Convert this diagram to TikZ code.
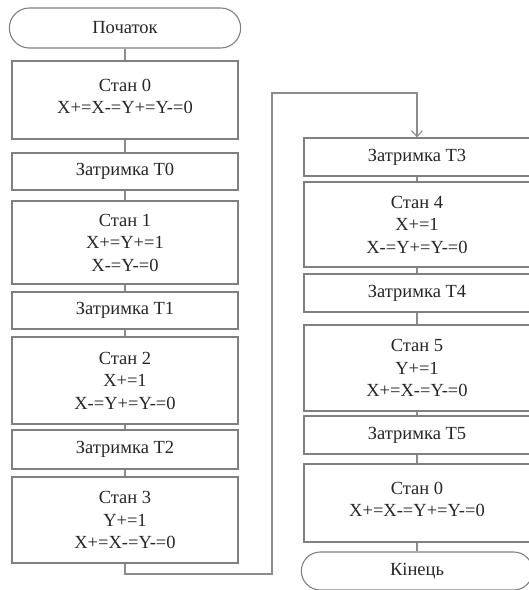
\documentclass[tikz,border=0pt]{standalone}
\usepackage{fontspec}
\setmainfont{Liberation Serif}
\usetikzlibrary{arrows.meta, positioning, shapes.misc}

\begin{document}
\begin{tikzpicture}[x=1pt, y=1pt, >={Straight Barb[length=6pt, width=11pt]},
    every node/.style={font=\fontsize{18.5}{22.5}\selectfont, text=black!85},
    block/.style={draw=black!50, line width=1.1pt, minimum width=226pt, align=center, inner sep=2pt},
    term/.style={draw=black!50, line width=1.1pt, rounded rectangle, minimum width=238pt, minimum height=40pt},
    link/.style={draw=black!45, line width=1.1pt}]
    \useasboundingbox (0,0) rectangle (529,590);
    % Left column
    \node[term] (start) at (125,562) {Початок};
    \node[block, minimum height=78pt, text depth=7pt] (stan0) at (125,490) {Стан 0\\X+=X-=Y+=Y-=0};
    \node[block, minimum height=37pt] (zatr0) at (125,418.5) {Затримка T0};
    \node[block, minimum height=83pt] (stan1) at (125,347.5) {Стан 1\\X+=Y+=1\\X-=Y-=0};
    \node[block, minimum height=37pt] (zatr1) at (125,279.5) {Затримка T1};
    \node[block, minimum height=87pt] (stan2) at (125,209.5) {Стан 2\\X+=1\\X-=Y+=Y-=0};
    \node[block, minimum height=39pt] (zatr2) at (125,140.5) {Затримка T2};
    \node[block, minimum height=86pt] (stan3) at (125,70) {Стан 3\\Y+=1\\X+=X-=Y-=0};
    % Right column
    \node[block, minimum height=38pt] (zatr3) at (417,433) {Затримка T3};
    \node[block, minimum height=85pt] (stan4) at (417,365.5) {Стан 4\\X+=1\\X-=Y+=Y-=0};
    \node[block, minimum height=38pt] (zatr4) at (417,297) {Затримка T4};
    \node[block, minimum height=86pt] (stan5) at (417,222) {Стан 5\\Y+=1\\X+=X-=Y-=0};
    \node[block, minimum height=38pt] (zatr5) at (417,155) {Затримка T5};
    \node[block, minimum height=78pt, text depth=7pt] (stanend) at (417,87) {Стан 0\\X+=X-=Y+=Y-=0};
    \node[term, minimum height=38pt] (finish) at (417,19) {Кінець};
    % Links
    \foreach \a/\b in {start/stan0, stan0/zatr0, zatr0/stan1, stan1/zatr1, zatr1/stan2, stan2/zatr2, zatr2/stan3,
        zatr3/stan4, stan4/zatr4, zatr4/stan5, stan5/zatr5, zatr5/stanend, stanend/finish}
        \draw[link] (\a.south) -- (\b.north);
    % Jump to the second column
    \coordinate (cornerlow) at (272,16);
    \coordinate (cornerhigh) at (272,497);
    \draw[link, ->] (stan3.south) |- (cornerlow) -- (cornerhigh) -| (zatr3.north);
\end{tikzpicture}
\end{document}
